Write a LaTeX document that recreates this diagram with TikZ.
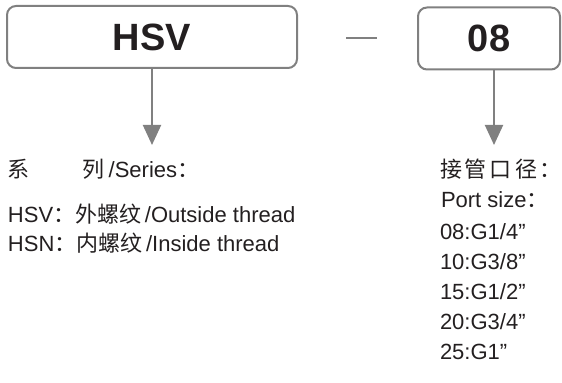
\documentclass[tikz,border=0pt]{standalone}
\usepackage{fontspec}
\setmainfont{Liberation Sans}
\newfontfamily\cjk{Noto Sans CJK SC}
\usetikzlibrary{%
  arrows.meta,% Triangle tips
  positioning%
}
\definecolor{framegray}{RGB}{128,128,128}
\definecolor{inkblack}{RGB}{35,31,32}

\begin{document}
\begin{tikzpicture}
  [
  x=0.5pt, y=-0.5pt,
  font=\fontsize{11}{13}\selectfont, text=inkblack, line width=1pt, >={Triangle[width=9pt,length=10pt]},
  codebox/.style={rectangle, rounded corners=4.5pt, draw=framegray, line width=1pt, inner sep=0pt, minimum height=31pt, font=\fontsize{19}{22}\selectfont\bfseries},
  infotext/.style={anchor=base west, inner sep=0pt},
  ]
  \useasboundingbox (0,0) rectangle (562,383);

  \node[codebox, minimum width=145pt] (series) at (152,37) {HSV};
  \node[codebox, minimum width=71pt] (port) at (489,38.5) {08};
  \draw[framegray] (346,38) -- (377,38);

  \coordinate (seriestip) at (152,145);
  \coordinate (porttip) at (494,145);
  \draw[->, framegray] (series.south) -- (seriestip);
  \draw[->, framegray] (port.south -| porttip) -- (porttip);

  % series
  \node[infotext] (serieshead) at (7,178) {{\cjk 系}\hspace{26.5pt}{\cjk 列}\,/Series{\cjk ：}};
  \node[infotext] (hsv) at (7,223) {HSV{\cjk ：外螺纹}\,/Outside thread};
  \node[infotext] (hsn) at (7,252) {HSN{\cjk ：内螺纹}\,/Inside thread};

  % port size
  \node[infotext] (porthead) at (439,178) {\cjk 接\hspace{1.5pt}管\hspace{1.5pt}口\hspace{1.5pt}径\hspace{1.5pt}：};
  \node[infotext] (portsub) at (440,208) {Port size{\cjk ：}};
  \foreach \size [count=\i from 0] in {08:G1/4”, 10:G3/8”, 15:G1/2”, 20:G3/4”, 25:G1”} {
    \node[infotext] (size\i) at (439,{240+30*\i}) {\size};
  }

\end{tikzpicture}
\end{document}
